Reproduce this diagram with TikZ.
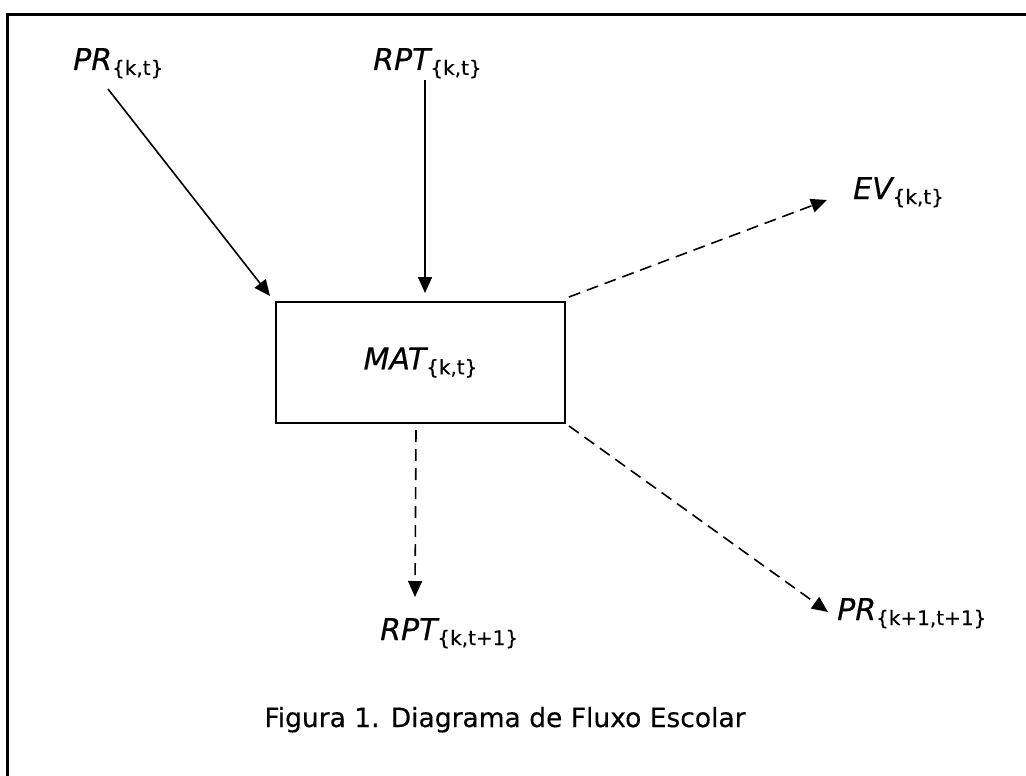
\documentclass[tikz,border=0pt]{standalone}
\usepackage{fontspec}
\setmainfont{DejaVu Sans}[FakeBold=0.4]
\usetikzlibrary{arrows.meta}
\newcommand{\flab}[2]{{\fontsize{30}{30}\selectfont\itshape #1}{\fontsize{20}{20}\selectfont\raisebox{-5pt}{\{#2\}}}}
\begin{document}
\begin{tikzpicture}[x=1pt,y=-1pt,
  solidarr/.style={line width=1.6pt, -{Triangle[length=16pt,width=14pt]}},
  dasharr/.style={solidarr, dash pattern=on 12pt off 7pt},
  lab/.style={anchor=base west, inner sep=0pt},
  boxst/.style={draw, line width=2pt, minimum width=289pt, minimum height=121pt, anchor=north west, inner sep=0pt}]
\useasboundingbox (0,0) rectangle (1026,776);
\draw[line width=3pt] (7,776) -- (7,15) -- (1026,15);
\node[lab] (pr) at (73,70) {\flab{PR}{k,t}};
\node[lab] (rpt) at (373,70) {\flab{RPT}{k,t}};
\node[boxst] (box) at (275,301) {\flab{MAT}{k,t}};
\node[lab] (ev) at (853,199) {\flab{EV}{k,t}};
\node[lab] (rpt2) at (380,640) {\flab{RPT}{k,t+1}};
\node[lab] (pr2) at (837,620) {\flab{PR}{k+1,t+1}};
\node[anchor=base, inner sep=0pt, font=\fontsize{26.5}{26.5}\selectfont] (cap) at (505,727) {Figura 1. Diagrama de Fluxo Escolar};
\coordinate (s1) at ([shift={(35,19)}]pr.base west);
\draw[solidarr] (s1) -- ([shift={(-5,-5)}]box.north west);
\coordinate (s2) at ([shift={(52,10)}]rpt.base west);
\draw[solidarr, shorten >=8pt] (s2) -- (s2 |- box.north);
\draw[dasharr] ([shift={(3,-4)}]box.north east) -- ([shift={(-26,1)}]ev.base west);
\draw[dasharr] ([shift={(-4.5,6)}]box.south) -- ([shift={(35,-43)}]rpt2.base west);
\draw[dasharr] ([shift={(3,2)}]box.south east) -- ([shift={(-9,-8)}]pr2.base west);
\end{tikzpicture}
\end{document}
